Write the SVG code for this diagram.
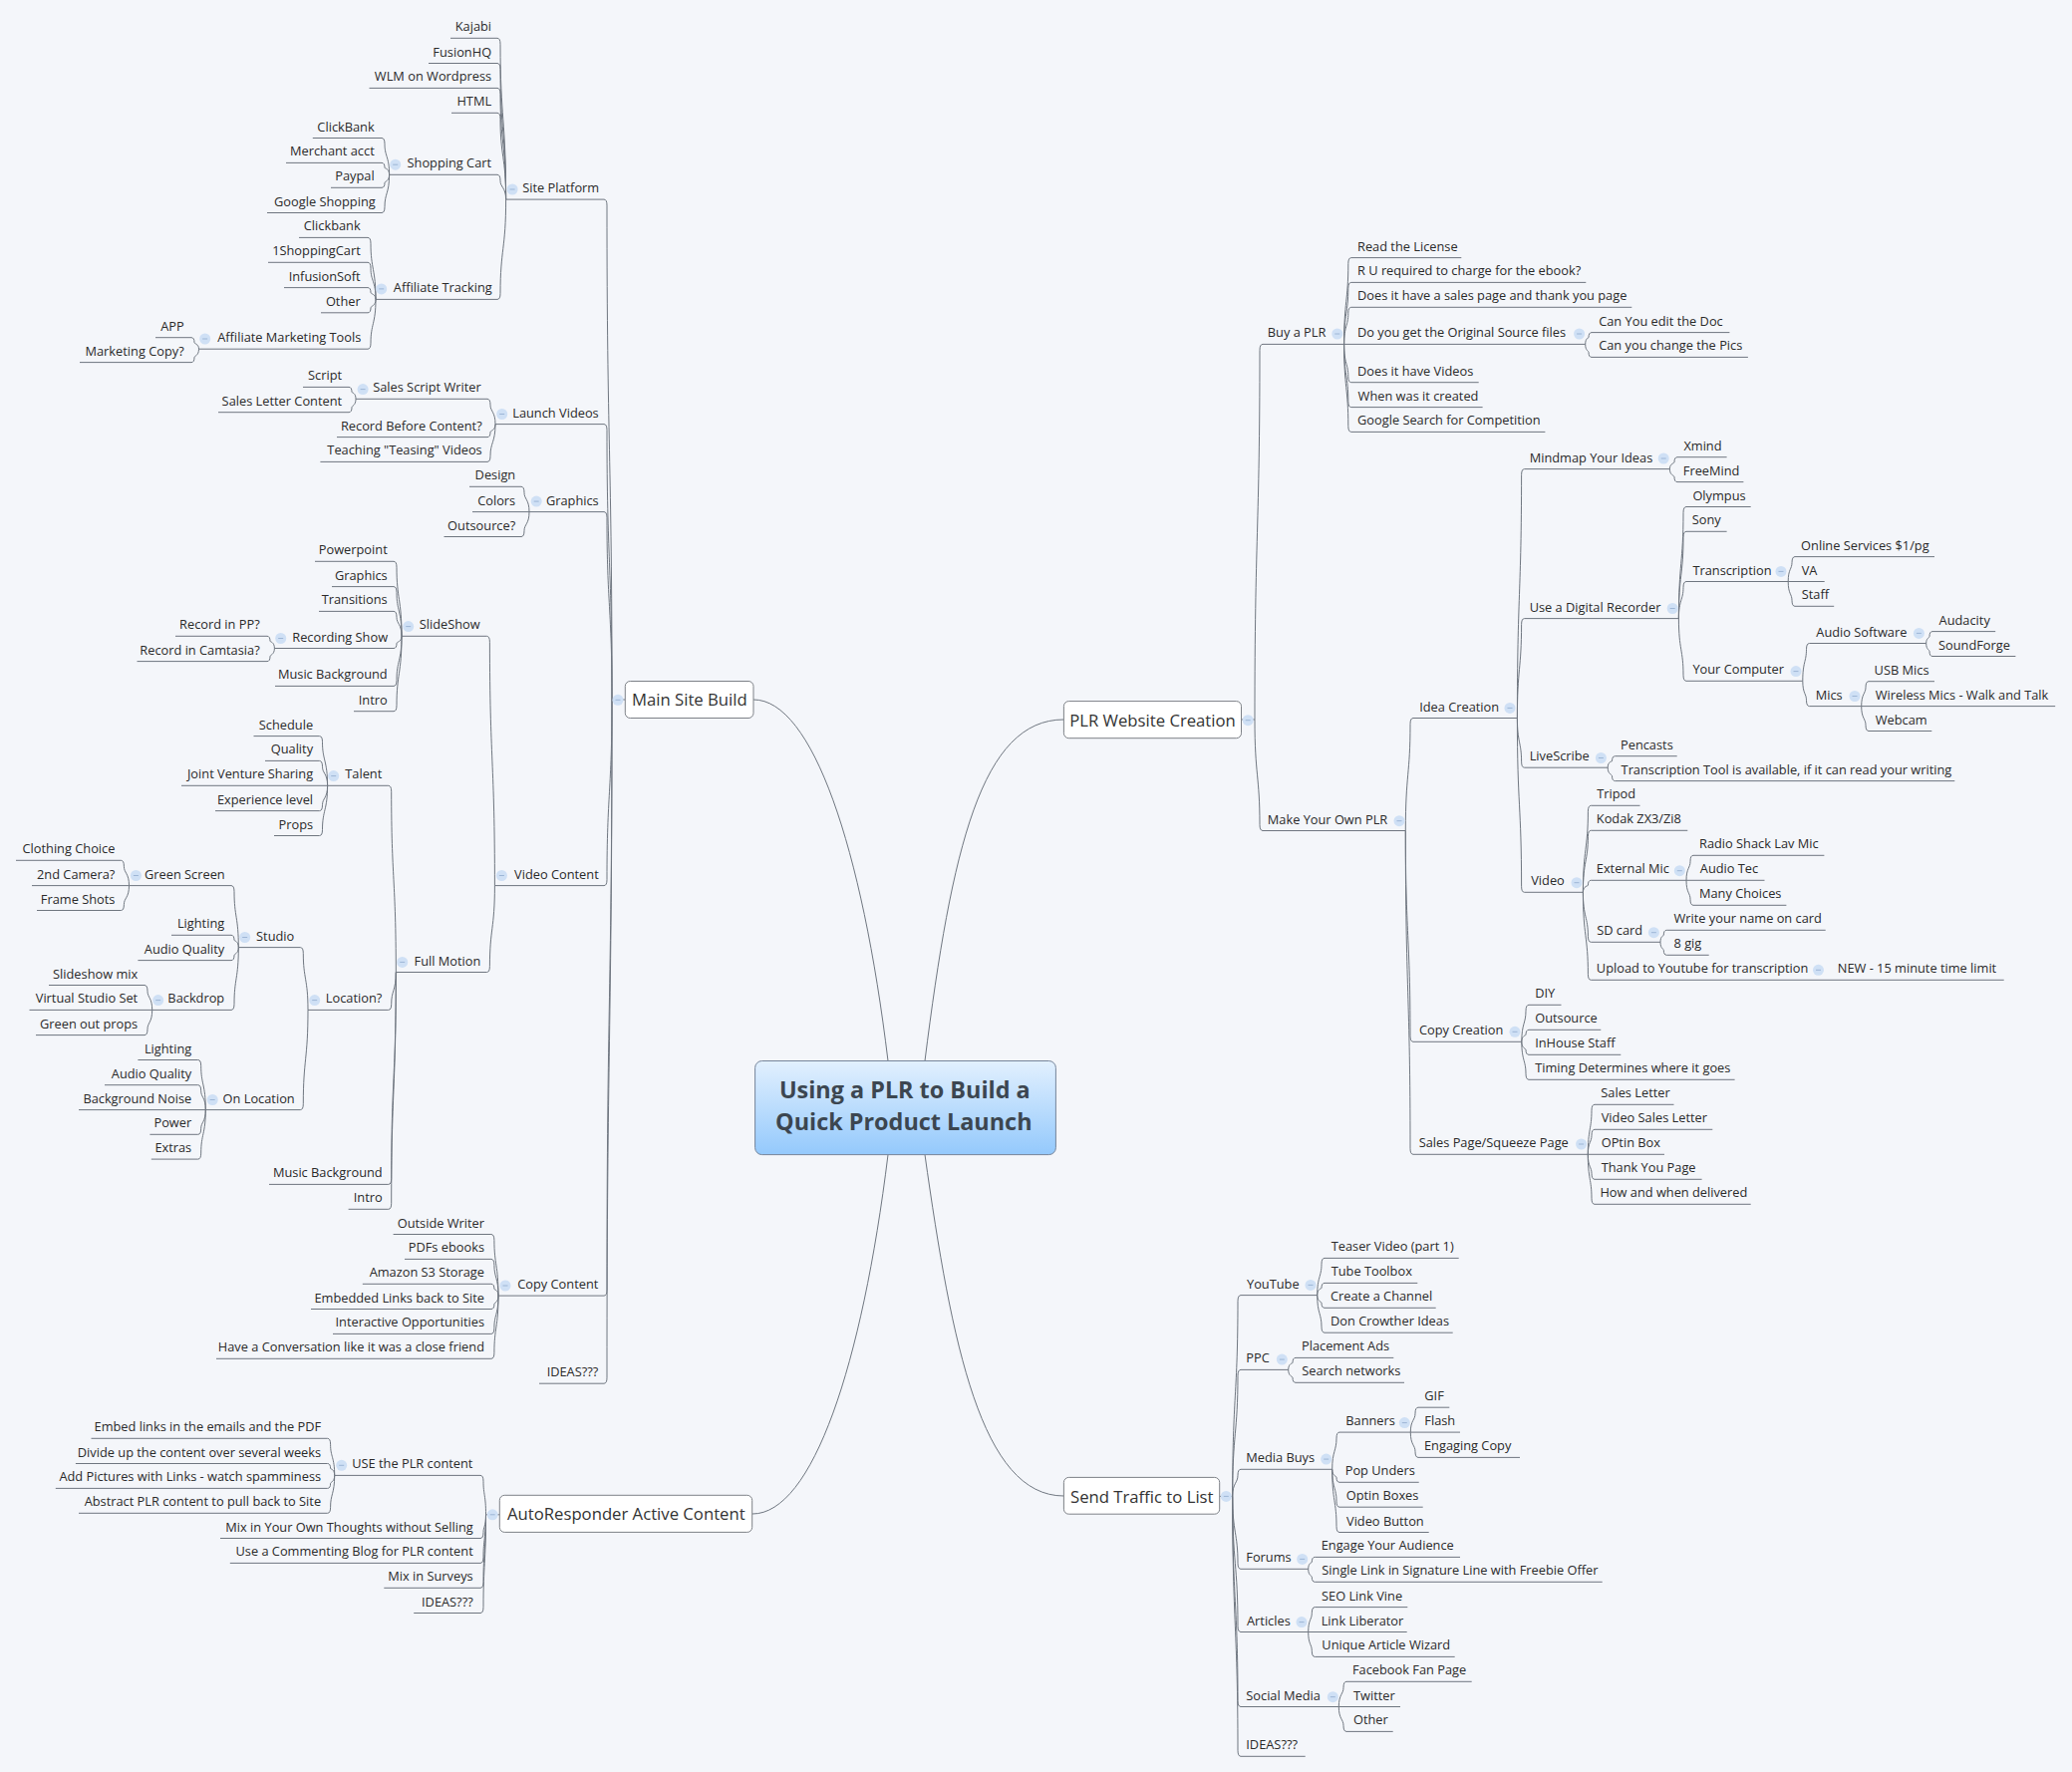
<svg xmlns="http://www.w3.org/2000/svg" width="2079" height="1778" viewBox="0 0 2079 1778">
<style>
text{font-family:"Open Sans","Liberation Sans",sans-serif;font-size:12.8px;fill:#2a2a2a}
.e{text-anchor:end}
.m{font-size:16.7px;fill:#333}
.c{font-size:23.4px;font-weight:700;fill:#3c4650;text-anchor:middle}
#connectors path{fill:none;stroke:#6f7680;stroke-width:1}
.b{fill:#fff;stroke:#7d8187;stroke-width:1}
</style>
<defs>
<linearGradient id="g" x1="0" y1="0" x2="0" y2="1"><stop offset="0" stop-color="#e2f0fe"/><stop offset="1" stop-color="#94c9fc"/></linearGradient>
<g id="ic"><circle r="5.5" fill="#cfe0f5"/><path d="M-2.5 0H2.5" stroke="#9db6d6" stroke-width="1"/></g>
</defs>
<rect width="2079" height="1778" fill="#f4f6fa"/>
<g id="connectors">
<path d="M891 1064.5C865 850 815 702 756 702"/>
<path d="M928 1064.5C955 850 985 722 1067.4 722"/>
<path d="M891 1158.6C865 1370 815 1519 755 1519"/>
<path d="M928 1158.6C955 1350 985 1501 1067.4 1501"/>
<path d="M627 702H614"/><path d="M1245.5 722H1259"/><path d="M501.3 1519.8H487.5"/><path d="M1223.7 1501.4H1236.7"/>
<path d="M614 702C614 451 609 451 609 206.1Q609 200.1 606 200.1H507.6"/>
<path d="M614 702C614 564 609 564 609 431.6Q609 425.6 606 425.6H497"/>
<path d="M614 702C614 608 609 608 609 519.6Q609 513.6 606 513.6H531"/>
<path d="M614 702C614 795 609 795 609 882.6Q609 888.6 606 888.6H496.4"/>
<path d="M614 702C614 1001 609 1001 609 1294.1Q609 1300.1 606 1300.1H500"/>
<path d="M614 702C614 1045 609 1045 609 1382.2Q609 1388.2 606 1388.2H541"/>
<path d="M507.6 200.1C507.6 119 502 119 502 44.3Q502 38.3 499 38.3H452"/>
<path d="M507.6 200.1C507.6 132 502 132 502 69.5Q502 63.5 499 63.5H430"/>
<path d="M507.6 200.1C507.6 144 502 144 502 94.4Q502 88.4 499 88.4H370.5"/>
<path d="M507.6 200.1C507.6 157 502 157 502 119.3Q502 113.3 499 113.3H453"/>
<path d="M507.6 200.1C507.6 188 502 188 502 181.3Q502 175.3 499 175.3H390.6"/>
<path d="M507.6 200.1C507.6 250 502 250 502 294.4Q502 300.4 499 300.4H377"/>
<path d="M390.6 175.3C390.6 157 386 157 386 144.5Q386 138.5 383 138.5H313.8"/>
<path d="M390.6 175.3C390.6 169 386 169 386 168.4Q386 163.4 383 163.4H287"/>
<path d="M390.6 175.3C390.6 182 386 182 386 183.3Q386 188.3 383 188.3H332"/>
<path d="M390.6 175.3C390.6 194 386 194 386 207.5Q386 213.5 383 213.5H268"/>
<path d="M377 300.4C377 270 372 270 372 244.4Q372 238.4 369 238.4H300"/>
<path d="M377 300.4C377 282 372 282 372 269.3Q372 263.3 369 263.3H269"/>
<path d="M377 300.4C377 295 372 295 372 293.6Q372 288.6 369 288.6H285"/>
<path d="M377 300.4C377 307 372 307 372 308.8Q372 313.8 369 313.8H322"/>
<path d="M377 300.4C377 325 372 325 372 344.2Q372 350.2 369 350.2H199.5"/>
<path d="M199.5 350.2C199.5 345 195 345 195 343.7Q195 338.7 192 338.7H156"/>
<path d="M199.5 350.2C199.5 357 195 357 195 358.6Q195 363.6 192 363.6H80"/>
<path d="M497 425.6C497 413 492 413 492 406.3Q492 400.3 489 400.3H357"/>
<path d="M497 425.6C497 432 492 432 492 433.6Q492 438.6 489 438.6H338"/>
<path d="M497 425.6C497 444 492 444 492 457.4Q492 463.4 489 463.4H321.4"/>
<path d="M357 400.3C357 394 353 394 353 393.4Q353 388.4 350 388.4H304"/>
<path d="M357 400.3C357 407 353 407 353 408.7Q353 413.7 350 413.7H219"/>
<path d="M531 513.6C531 501 526 501 526 494.3Q526 488.3 523 488.3H471"/>
<path d="M531 513.6H474"/>
<path d="M531 513.6C531 526 526 526 526 532.5Q526 538.5 523 538.5H445.5"/>
<path d="M496.4 888.6C496.4 763 491.4 763 491.4 644.3Q491.4 638.3 488.4 638.3H403"/>
<path d="M496.4 888.6C496.4 932 491.4 932 491.4 969.5Q491.4 975.5 488.4 975.5H397.3"/>
<path d="M403 638.3C403 601 398 601 398 569.3Q398 563.3 395 563.3H316"/>
<path d="M403 638.3C403 613 398 613 398 594.6Q398 588.6 395 588.6H333"/>
<path d="M403 638.3C403 626 398 626 398 619.4Q398 613.4 395 613.4H320"/>
<path d="M403 638.3C403 644 398 644 398 645.5Q398 650.5 395 650.5H275.4"/>
<path d="M403 638.3C403 663 398 663 398 682.4Q398 688.4 395 688.4H276"/>
<path d="M403 638.3C403 676 398 676 398 707.7Q398 713.7 395 713.7H355"/>
<path d="M275.4 650.5C275.4 644 271 644 271 643.3Q271 638.3 268 638.3H176"/>
<path d="M275.4 650.5C275.4 657 271 657 271 658.6Q271 663.6 268 663.6H137.5"/>
<path d="M397.3 975.5C397.3 882 392.7 882 392.7 794.3Q392.7 788.3 389.7 788.3H328.6"/>
<path d="M397.3 975.5C397.3 994 392.7 994 392.7 1007.4Q392.7 1013.4 389.7 1013.4H309"/>
<path d="M397.3 975.5C397.3 1082 392.7 1082 392.7 1182.4Q392.7 1188.4 389.7 1188.4H270"/>
<path d="M397.3 975.5C397.3 1094 392.7 1094 392.7 1207.3Q392.7 1213.3 389.7 1213.3H349.6"/>
<path d="M328.6 788.3C328.6 763 323.5 763 323.5 744.6Q323.5 738.6 320.5 738.6H254.5"/>
<path d="M328.6 788.3C328.6 776 323.5 776 323.5 769.4Q323.5 763.4 320.5 763.4H266"/>
<path d="M328.6 788.3H182"/>
<path d="M328.6 788.3C328.6 801 323.5 801 323.5 807.6Q323.5 813.6 320.5 813.6H216"/>
<path d="M328.6 788.3C328.6 813 323.5 813 323.5 832.5Q323.5 838.5 320.5 838.5H275"/>
<path d="M309 1013.4C309 982 304.3 982 304.3 956.6Q304.3 950.6 301.3 950.6H239.3"/>
<path d="M309 1013.4C309 1063 304.3 1063 304.3 1107.6Q304.3 1113.6 301.3 1113.6H206.3"/>
<path d="M239.3 950.6C239.3 920 235 920 235 894.6Q235 888.6 232 888.6H129.5"/>
<path d="M239.3 950.6C239.3 944 235 944 235 943.3Q235 938.3 232 938.3H172"/>
<path d="M239.3 950.6C239.3 957 235 957 235 958.6Q235 963.6 232 963.6H138.4"/>
<path d="M239.3 950.6C239.3 982 235 982 235 1007.4Q235 1013.4 232 1013.4H152.7"/>
<path d="M129.5 888.6C129.5 876 124.4 876 124.4 869.3Q124.4 863.3 121.4 863.3H16"/>
<path d="M129.5 888.6H32"/>
<path d="M129.5 888.6C129.5 901 124.4 901 124.4 907.5Q124.4 913.5 121.4 913.5H37"/>
<path d="M152.7 1013.4C152.7 1001 148 1001 148 994.5Q148 988.5 145 988.5H49"/>
<path d="M152.7 1013.4H29.5"/>
<path d="M152.7 1013.4C152.7 1026 148 1026 148 1032.6Q148 1038.6 145 1038.6H36"/>
<path d="M206.3 1113.6C206.3 1088 201.7 1088 201.7 1069.5Q201.7 1063.5 198.7 1063.5H138.4"/>
<path d="M206.3 1113.6C206.3 1101 201.7 1101 201.7 1094.7Q201.7 1088.7 198.7 1088.7H105"/>
<path d="M206.3 1113.6H79"/>
<path d="M206.3 1113.6C206.3 1126 201.7 1126 201.7 1132.3Q201.7 1138.3 198.7 1138.3H150.4"/>
<path d="M206.3 1113.6C206.3 1138 201.7 1138 201.7 1157.1Q201.7 1163.1 198.7 1163.1H151.8"/>
<path d="M500 1300.1C500 1269 495.9 1269 495.9 1244.5Q495.9 1238.5 492.9 1238.5H394.6"/>
<path d="M500 1300.1C500 1282 495.9 1282 495.9 1269.4Q495.9 1263.4 492.9 1263.4H406"/>
<path d="M500 1300.1C500 1294 495.9 1294 495.9 1293.3Q495.9 1288.3 492.9 1288.3H363.8"/>
<path d="M500 1300.1C500 1307 495.9 1307 495.9 1308.5Q495.9 1313.5 492.9 1313.5H312"/>
<path d="M500 1300.1C500 1319 495.9 1319 495.9 1332.4Q495.9 1338.4 492.9 1338.4H334"/>
<path d="M500 1300.1C500 1332 495.9 1332 495.9 1357.3Q495.9 1363.3 492.9 1363.3H217"/>
<path d="M487.5 1519.8C487.5 1500 485 1500 485 1486.4Q485 1480.4 482 1480.4H335.7"/>
<path d="M487.5 1519.8C487.5 1532 485 1532 485 1537.5Q485 1543.5 482 1543.5H221"/>
<path d="M487.5 1519.8C487.5 1544 485 1544 485 1562.4Q485 1568.4 482 1568.4H230.8"/>
<path d="M487.5 1519.8C487.5 1556 485 1556 485 1587.3Q485 1593.3 482 1593.3H385.3"/>
<path d="M487.5 1519.8C487.5 1569 485 1569 485 1612.5Q485 1618.5 482 1618.5H415.2"/>
<path d="M335.7 1480.4C335.7 1462 331.6 1462 331.6 1449.3Q331.6 1443.3 328.6 1443.3H91.5"/>
<path d="M335.7 1480.4C335.7 1474 331.6 1474 331.6 1473.5Q331.6 1468.5 328.6 1468.5H75.9"/>
<path d="M335.7 1480.4C335.7 1487 331.6 1487 331.6 1488.4Q331.6 1493.4 328.6 1493.4H55.8"/>
<path d="M335.7 1480.4C335.7 1499 331.6 1499 331.6 1512.3Q331.6 1518.3 328.6 1518.3H79"/>
<path d="M1259 722C1259 534 1264 534 1264 351.4Q1264 345.4 1267 345.4H1348.6"/>
<path d="M1259 722C1259 778 1264 778 1264 827.5Q1264 833.5 1267 833.5H1410.3"/>
<path d="M1348.6 345.4C1348.6 302 1352.8 302 1352.8 264.6Q1352.8 258.6 1355.8 258.6H1466.3"/>
<path d="M1348.6 345.4C1348.6 314 1352.8 314 1352.8 289.4Q1352.8 283.4 1355.8 283.4H1591.3"/>
<path d="M1348.6 345.4C1348.6 327 1352.8 327 1352.8 314.3Q1352.8 308.3 1355.8 308.3H1637.3"/>
<path d="M1348.6 345.4H1590.7"/>
<path d="M1348.6 345.4C1348.6 365 1352.8 365 1352.8 377.7Q1352.8 383.7 1355.8 383.7H1483.7"/>
<path d="M1348.6 345.4C1348.6 377 1352.8 377 1352.8 402.6Q1352.8 408.6 1355.8 408.6H1487.6"/>
<path d="M1348.6 345.4C1348.6 389 1352.8 389 1352.8 427.4Q1352.8 433.4 1355.8 433.4H1550.4"/>
<path d="M1590.7 345.4C1590.7 339 1594 339 1594 338.6Q1594 333.6 1597 333.6H1735.4"/>
<path d="M1590.7 345.4C1590.7 352 1594 352 1594 353.4Q1594 358.4 1597 358.4H1753.9"/>
<path d="M1410.3 833.5C1410.3 777 1415 777 1415 726.5Q1415 720.5 1418 720.5H1522.4"/>
<path d="M1410.3 833.5C1410.3 939 1415 939 1415 1039.3Q1415 1045.3 1418 1045.3H1526.8"/>
<path d="M1410.3 833.5C1410.3 996 1415 996 1415 1152.3Q1415 1158.3 1418 1158.3H1593.3"/>
<path d="M1522.4 720.5C1522.4 596 1526.6 596 1526.6 476.6Q1526.6 470.6 1529.6 470.6H1675.4"/>
<path d="M1522.4 720.5C1522.4 671 1526.6 671 1526.6 626.6Q1526.6 620.6 1529.6 620.6H1684.4"/>
<path d="M1522.4 720.5C1522.4 745 1526.6 745 1526.6 764.2Q1526.6 770.2 1529.6 770.2H1613.2"/>
<path d="M1522.4 720.5C1522.4 808 1526.6 808 1526.6 889.3Q1526.6 895.3 1529.6 895.3H1588.4"/>
<path d="M1675.4 470.6C1675.4 465 1680 465 1680 463.7Q1680 458.7 1683 458.7H1732.6"/>
<path d="M1675.4 470.6C1675.4 477 1680 477 1680 478.6Q1680 483.6 1683 483.6H1749.4"/>
<path d="M1684.4 620.6C1684.4 565 1689 565 1689 514.5Q1689 508.5 1692 508.5H1756.7"/>
<path d="M1684.4 620.6C1684.4 577 1689 577 1689 539.3Q1689 533.3 1692 533.3H1732.6"/>
<path d="M1684.4 620.6C1684.4 602 1689 602 1689 589.5Q1689 583.5 1692 583.5H1794.2"/>
<path d="M1684.4 620.6C1684.4 652 1689 652 1689 677.3Q1689 683.3 1692 683.3H1808.8"/>
<path d="M1794.2 583.5C1794.2 571 1798 571 1798 564.6Q1798 558.6 1801 558.6H1941"/>
<path d="M1794.2 583.5H1830.7"/>
<path d="M1794.2 583.5C1794.2 596 1798 596 1798 602.3Q1798 608.3 1801 608.3H1840.2"/>
<path d="M1808.8 683.3C1808.8 664 1812.5 664 1812.5 651.5Q1812.5 645.5 1815.5 645.5H1932.7"/>
<path d="M1808.8 683.3C1808.8 696 1812.5 696 1812.5 702.6Q1812.5 708.6 1815.5 708.6H1867.7"/>
<path d="M1932.7 645.5C1932.7 640 1936 640 1936 638.6Q1936 633.6 1939 633.6H2002.2"/>
<path d="M1932.7 645.5C1932.7 652 1936 652 1936 653.5Q1936 658.5 1939 658.5H2022.4"/>
<path d="M1867.7 708.6C1867.7 696 1872 696 1872 689.7Q1872 683.7 1875 683.7H1941"/>
<path d="M1867.7 708.6H2062.2"/>
<path d="M1867.7 708.6C1867.7 721 1872 721 1872 727.5Q1872 733.5 1875 733.5H1938.3"/>
<path d="M1613.2 770.2C1613.2 764 1617.5 764 1617.5 763.7Q1617.5 758.7 1620.5 758.7H1682.7"/>
<path d="M1613.2 770.2C1613.2 777 1617.5 777 1617.5 778.6Q1617.5 783.6 1620.5 783.6H1961.3"/>
<path d="M1588.4 895.3C1588.4 852 1593.4 852 1593.4 814.3Q1593.4 808.3 1596.4 808.3H1645.5"/>
<path d="M1588.4 895.3C1588.4 864 1593.4 864 1593.4 839.3Q1593.4 833.3 1596.4 833.3H1693.3"/>
<path d="M1588.4 895.3C1588.4 889 1593.4 889 1593.4 888.3Q1593.4 883.3 1596.4 883.3H1692"/>
<path d="M1588.4 895.3C1588.4 920 1593.4 920 1593.4 939.3Q1593.4 945.3 1596.4 945.3H1666"/>
<path d="M1588.4 895.3C1588.4 939 1593.4 939 1593.4 977.3Q1593.4 983.3 1596.4 983.3H2010.7"/>
<path d="M1692 883.3C1692 871 1696 871 1696 864.3Q1696 858.3 1699 858.3H1830.4"/>
<path d="M1692 883.3H1770.5"/>
<path d="M1692 883.3C1692 896 1696 896 1696 902.3Q1696 908.3 1699 908.3H1792.4"/>
<path d="M1666 945.3C1666 939 1669.3 939 1669.3 938.3Q1669.3 933.3 1672.3 933.3H1831.7"/>
<path d="M1666 945.3C1666 952 1669.3 952 1669.3 953.3Q1669.3 958.3 1672.3 958.3H1714.7"/>
<path d="M1526.8 1045.3C1526.8 1027 1531 1027 1531 1014.3Q1531 1008.3 1534 1008.3H1566.5"/>
<path d="M1526.8 1045.3C1526.8 1039 1531 1039 1531 1038.3Q1531 1033.3 1534 1033.3H1606.3"/>
<path d="M1526.8 1045.3C1526.8 1052 1531 1052 1531 1053.3Q1531 1058.3 1534 1058.3H1626.3"/>
<path d="M1526.8 1045.3C1526.8 1064 1531 1064 1531 1077.3Q1531 1083.3 1534 1083.3H1740.6"/>
<path d="M1593.3 1158.3C1593.3 1133 1597 1133 1597 1114.3Q1597 1108.3 1600 1108.3H1679.5"/>
<path d="M1593.3 1158.3C1593.3 1146 1597 1146 1597 1139.3Q1597 1133.3 1600 1133.3H1718.3"/>
<path d="M1593.3 1158.3H1670"/>
<path d="M1593.3 1158.3C1593.3 1171 1597 1171 1597 1177.3Q1597 1183.3 1600 1183.3H1707.6"/>
<path d="M1593.3 1158.3C1593.3 1183 1597 1183 1597 1202.3Q1597 1208.3 1600 1208.3H1756.7"/>
<path d="M1236.7 1501.4C1236.7 1400 1242 1400 1242 1305.6Q1242 1299.6 1245 1299.6H1321.7"/>
<path d="M1236.7 1501.4C1236.7 1438 1242 1438 1242 1380.4Q1242 1374.4 1245 1374.4H1292.7"/>
<path d="M1236.7 1501.4C1236.7 1488 1242 1488 1242 1480.3Q1242 1474.3 1245 1474.3H1336.7"/>
<path d="M1236.7 1501.4C1236.7 1538 1242 1538 1242 1568.3Q1242 1574.3 1245 1574.3H1312.7"/>
<path d="M1236.7 1501.4C1236.7 1569 1242 1569 1242 1631.5Q1242 1637.5 1245 1637.5H1312.7"/>
<path d="M1236.7 1501.4C1236.7 1607 1242 1607 1242 1706.5Q1242 1712.5 1245 1712.5H1343.3"/>
<path d="M1236.7 1501.4C1236.7 1632 1242 1632 1242 1756.3Q1242 1762.3 1245 1762.3H1309.7"/>
<path d="M1321.7 1299.6C1321.7 1281 1326 1281 1326 1268.4Q1326 1262.4 1329 1262.4H1463.7"/>
<path d="M1321.7 1299.6C1321.7 1293 1326 1293 1326 1292.4Q1326 1287.4 1329 1287.4H1422.3"/>
<path d="M1321.7 1299.6C1321.7 1306 1326 1306 1326 1307.3Q1326 1312.3 1329 1312.3H1440.7"/>
<path d="M1321.7 1299.6C1321.7 1318 1326 1318 1326 1331.2Q1326 1337.2 1329 1337.2H1457.7"/>
<path d="M1292.7 1374.4C1292.7 1368 1297 1368 1297 1367.4Q1297 1362.4 1300 1362.4H1398.3"/>
<path d="M1292.7 1374.4C1292.7 1381 1297 1381 1297 1382.3Q1297 1387.3 1300 1387.3H1409"/>
<path d="M1336.7 1474.3C1336.7 1456 1341 1456 1341 1443.1Q1341 1437.1 1344 1437.1H1415.3"/>
<path d="M1336.7 1474.3C1336.7 1481 1341 1481 1341 1482.3Q1341 1487.3 1344 1487.3H1423.7"/>
<path d="M1336.7 1474.3C1336.7 1493 1341 1493 1341 1506.2Q1341 1512.2 1344 1512.2H1427.7"/>
<path d="M1336.7 1474.3C1336.7 1506 1341 1506 1341 1531.5Q1341 1537.5 1344 1537.5H1433.7"/>
<path d="M1415.3 1437.1C1415.3 1425 1420 1425 1420 1418.2Q1420 1412.2 1423 1412.2H1454.3"/>
<path d="M1415.3 1437.1H1465"/>
<path d="M1415.3 1437.1C1415.3 1450 1420 1450 1420 1456.4Q1420 1462.4 1423 1462.4H1525"/>
<path d="M1312.7 1574.3C1312.7 1568 1316.3 1568 1316.3 1567.4Q1316.3 1562.4 1319.3 1562.4H1465"/>
<path d="M1312.7 1574.3C1312.7 1581 1316.3 1581 1316.3 1582.3Q1316.3 1587.3 1319.3 1587.3H1607.7"/>
<path d="M1312.7 1637.5C1312.7 1625 1316.3 1625 1316.3 1618.6Q1316.3 1612.6 1319.3 1612.6H1412.3"/>
<path d="M1312.7 1637.5H1411.7"/>
<path d="M1312.7 1637.5C1312.7 1650 1316.3 1650 1316.3 1656.4Q1316.3 1662.4 1319.3 1662.4H1459.7"/>
<path d="M1343.3 1712.5C1343.3 1700 1348 1700 1348 1693.3Q1348 1687.3 1351 1687.3H1476.7"/>
<path d="M1343.3 1712.5H1405"/>
<path d="M1343.3 1712.5C1343.3 1725 1348 1725 1348 1731.4Q1348 1737.4 1351 1737.4H1397.7"/>
</g>
<g id="center"><rect x="757.6" y="1064.5" width="301.8" height="94.1" rx="7" fill="url(#g)" stroke="#76859a"/><text class="c" x="907.8" y="1101.6">Using a PLR to Build a</text><text class="c" x="906.8" y="1134">Quick Product Launch</text></g>
<g id="main-site-build"><rect class="b" x="627.3" y="683.5" width="128.7" height="37" rx="5"/><text class="m" x="634" y="708.3">Main Site Build</text><use href="#ic" x="620" y="702.3"/></g>
<g id="plr-website-creation"><rect class="b" x="1067.4" y="703.6" width="178.1" height="37.1" rx="5"/><text class="m" x="1073.2" y="728.5">PLR Website Creation</text><use href="#ic" x="1252.2" y="722.7"/></g>
<g id="autoresponder"><rect class="b" x="501.3" y="1500.3" width="253.4" height="37.1" rx="5"/><text class="m" x="509" y="1525">AutoResponder Active Content</text><use href="#ic" x="494.2" y="1519.8"/></g>
<g id="send-traffic"><rect class="b" x="1067.4" y="1482.4" width="156.3" height="36.8" rx="5"/><text class="m" x="1074" y="1507.7">Send Traffic to List</text><use href="#ic" x="1230.3" y="1501.4"/></g>
<g id="left-topics" transform="translate(0.7 1)">
<g id="n1"><text class="e" x="492.4" y="30.3">Kajabi</text></g>
<g id="n2"><text class="e" x="492.4" y="55.5">FusionHQ</text></g>
<g id="n3"><text class="e" x="492.4" y="80.4">WLM on Wordpress</text></g>
<g id="n4"><text class="e" x="492.4" y="105.3">HTML</text></g>
<g id="n5"><text class="e" x="600.5" y="192.1">Site Platform</text><use href="#ic" x="513.4" y="189"/></g>
<g id="n6"><text class="e" x="492.4" y="167.3">Shopping Cart</text><use href="#ic" x="396" y="164.2"/></g>
<g id="n7"><text class="e" x="375" y="130.5">ClickBank</text></g>
<g id="n8"><text class="e" x="375" y="155.4">Merchant acct</text></g>
<g id="n9"><text class="e" x="375" y="180.3">Paypal</text></g>
<g id="n10"><text class="e" x="376" y="205.5">Google Shopping</text></g>
<g id="n11"><text class="e" x="493" y="292.4">Affiliate Tracking</text><use href="#ic" x="382" y="288.9"/></g>
<g id="n12"><text class="e" x="361" y="230.4">Clickbank</text></g>
<g id="n13"><text class="e" x="361" y="255.3">1ShoppingCart</text></g>
<g id="n14"><text class="e" x="361" y="280.6">InfusionSoft</text></g>
<g id="n15"><text class="e" x="361" y="305.8">Other</text></g>
<g id="n16"><text class="e" x="361.6" y="342.2">Affiliate Marketing Tools</text><use href="#ic" x="205" y="339"/></g>
<g id="n17"><text class="e" x="184" y="330.7">APP</text></g>
<g id="n18"><text class="e" x="184" y="355.6">Marketing Copy?</text></g>
<g id="n19"><text class="e" x="600" y="417.6">Launch Videos</text><use href="#ic" x="503" y="414.5"/></g>
<g id="n20"><text class="e" x="482" y="392.3">Sales Script Writer</text><use href="#ic" x="363.4" y="389.6"/></g>
<g id="n21"><text class="e" x="342.4" y="380.4">Script</text></g>
<g id="n22"><text class="e" x="342.4" y="405.7">Sales Letter Content</text></g>
<g id="n23"><text class="e" x="483" y="430.6">Record Before Content?</text></g>
<g id="n24"><text class="e" x="483" y="455.4">Teaching "Teasing" Videos</text></g>
<g id="n25"><text class="e" x="600" y="505.6">Graphics</text><use href="#ic" x="537.5" y="502.1"/></g>
<g id="n26"><text class="e" x="516.5" y="480.3">Design</text></g>
<g id="n27"><text class="e" x="516.5" y="505.6">Colors</text></g>
<g id="n28"><text class="e" x="516.5" y="530.5">Outsource?</text></g>
<g id="n29"><text class="e" x="600" y="880.6">Video Content</text><use href="#ic" x="502.7" y="877.5"/></g>
<g id="n30"><text class="e" x="481" y="630.3">SlideShow</text><use href="#ic" x="409" y="627.6"/></g>
<g id="n31"><text class="e" x="388" y="555.3">Powerpoint</text></g>
<g id="n32"><text class="e" x="388" y="580.6">Graphics</text></g>
<g id="n33"><text class="e" x="388" y="605.4">Transitions</text></g>
<g id="n34"><text class="e" x="388.4" y="642.5">Recording Show</text><use href="#ic" x="281" y="639.5"/></g>
<g id="n35"><text class="e" x="260" y="630.3">Record in PP?</text></g>
<g id="n36"><text class="e" x="260" y="655.6">Record in Camtasia?</text></g>
<g id="n37"><text class="e" x="388" y="680.4">Music Background</text></g>
<g id="n38"><text class="e" x="388" y="705.7">Intro</text></g>
<g id="n39"><text class="e" x="481.7" y="967.5">Full Motion</text><use href="#ic" x="403" y="964.4"/></g>
<g id="n40"><text class="e" x="382.6" y="780.3">Talent</text><use href="#ic" x="334" y="777.6"/></g>
<g id="n41"><text class="e" x="313.4" y="730.6">Schedule</text></g>
<g id="n42"><text class="e" x="313.4" y="755.4">Quality</text></g>
<g id="n43"><text class="e" x="313.4" y="780.3">Joint Venture Sharing</text></g>
<g id="n44"><text class="e" x="313.4" y="805.6">Experience level</text></g>
<g id="n45"><text class="e" x="313.4" y="830.5">Props</text></g>
<g id="n46"><text class="e" x="382.6" y="1005.4">Location?</text><use href="#ic" x="315" y="1002.6"/></g>
<g id="n47"><text class="e" x="294.6" y="942.6">Studio</text><use href="#ic" x="245" y="939.5"/></g>
<g id="n48"><text class="e" x="225" y="880.6">Green Screen</text><use href="#ic" x="135.7" y="877.5"/></g>
<g id="n49"><text class="e" x="114.7" y="855.3">Clothing Choice</text></g>
<g id="n50"><text class="e" x="114.7" y="880.6">2nd Camera?</text></g>
<g id="n51"><text class="e" x="114.7" y="905.5">Frame Shots</text></g>
<g id="n52"><text class="e" x="224.5" y="930.3">Lighting</text></g>
<g id="n53"><text class="e" x="224.5" y="955.6">Audio Quality</text></g>
<g id="n54"><text class="e" x="224.5" y="1005.4">Backdrop</text><use href="#ic" x="158" y="1002.6"/></g>
<g id="n55"><text class="e" x="137.5" y="980.5">Slideshow mix</text></g>
<g id="n56"><text class="e" x="137.5" y="1005.4">Virtual Studio Set</text></g>
<g id="n57"><text class="e" x="137.5" y="1030.6">Green out props</text></g>
<g id="n58"><text class="e" x="295" y="1105.6">On Location</text><use href="#ic" x="212.5" y="1102.5"/></g>
<g id="n59"><text class="e" x="191.5" y="1055.5">Lighting</text></g>
<g id="n60"><text class="e" x="191.5" y="1080.7">Audio Quality</text></g>
<g id="n61"><text class="e" x="191.5" y="1105.6">Background Noise</text></g>
<g id="n62"><text class="e" x="191.5" y="1130.3">Power</text></g>
<g id="n63"><text class="e" x="191.5" y="1155.1">Extras</text></g>
<g id="n64"><text class="e" x="383" y="1180.4">Music Background</text></g>
<g id="n65"><text class="e" x="383" y="1205.3">Intro</text></g>
<g id="n66"><text class="e" x="599.6" y="1292.1">Copy Content</text><use href="#ic" x="506.3" y="1289"/></g>
<g id="n67"><text class="e" x="485.3" y="1230.5">Outside Writer</text></g>
<g id="n68"><text class="e" x="485.3" y="1255.4">PDFs ebooks</text></g>
<g id="n69"><text class="e" x="485.3" y="1280.3">Amazon S3 Storage</text></g>
<g id="n70"><text class="e" x="485.3" y="1305.5">Embedded Links back to Site</text></g>
<g id="n71"><text class="e" x="485.3" y="1330.4">Interactive Opportunities</text></g>
<g id="n72"><text class="e" x="485.3" y="1355.3">Have a Conversation like it was a close friend</text></g>
<g id="n73"><text class="e" x="599.6" y="1380.2">IDEAS???</text></g>
<g id="n74"><text class="e" x="473.7" y="1472.4">USE the PLR content</text><use href="#ic" x="342" y="1469.3"/></g>
<g id="n75"><text class="e" x="321.4" y="1435.3">Embed links in the emails and the PDF</text></g>
<g id="n76"><text class="e" x="321.4" y="1460.5">Divide up the content over several weeks</text></g>
<g id="n77"><text class="e" x="321.4" y="1485.4">Add Pictures with Links - watch spamminess</text></g>
<g id="n78"><text class="e" x="321.4" y="1510.3">Abstract PLR content to pull back to Site</text></g>
<g id="n79"><text class="e" x="474" y="1535.5">Mix in Your Own Thoughts without Selling</text></g>
<g id="n80"><text class="e" x="474" y="1560.4">Use a Commenting Blog for PLR content</text></g>
<g id="n81"><text class="e" x="474" y="1585.3">Mix in Surveys</text></g>
<g id="n82"><text class="e" x="474" y="1610.5">IDEAS???</text></g>
</g>
<g id="right-topics" transform="translate(0 1)">
<g id="r1"><text x="1271.8" y="337.4">Buy a PLR</text><use href="#ic" x="1341.8" y="334"/></g>
<g id="r2"><text x="1362" y="250.6">Read the License</text></g>
<g id="r3"><text x="1362" y="275.4">R U required to charge for the ebook?</text></g>
<g id="r4"><text x="1362" y="300.3">Does it have a sales page and thank you page</text></g>
<g id="r5"><text x="1362" y="337.4">Do you get the Original Source files</text><use href="#ic" x="1584.6" y="334"/></g>
<g id="r6"><text x="1604.2" y="325.6">Can You edit the Doc</text></g>
<g id="r7"><text x="1604.2" y="350.4">Can you change the Pics</text></g>
<g id="r8"><text x="1362" y="375.7">Does it have Videos</text></g>
<g id="r9"><text x="1362.6" y="400.6">When was it created</text></g>
<g id="r10"><text x="1362" y="425.4">Google Search for Competition</text></g>
<g id="r11"><text x="1271.8" y="825.5">Make Your Own PLR</text><use href="#ic" x="1404" y="822.7"/></g>
<g id="r12"><text x="1424.2" y="712.5">Idea Creation</text><use href="#ic" x="1515" y="709.4"/></g>
<g id="r13"><text x="1534.7" y="462.6">Mindmap Your Ideas</text><use href="#ic" x="1669.2" y="459"/></g>
<g id="r14"><text x="1689.4" y="450.7">Xmind</text></g>
<g id="r15"><text x="1688.8" y="475.6">FreeMind</text></g>
<g id="r16"><text x="1534.7" y="612.6">Use a Digital Recorder</text><use href="#ic" x="1678.2" y="609.5"/></g>
<g id="r17"><text x="1698.4" y="500.5">Olympus</text></g>
<g id="r18"><text x="1697.8" y="525.3">Sony</text></g>
<g id="r19"><text x="1698.4" y="575.5">Transcription</text><use href="#ic" x="1787" y="572.4"/></g>
<g id="r20"><text x="1807.1" y="550.6">Online Services $1/pg</text></g>
<g id="r21"><text x="1807.7" y="575.5">VA</text></g>
<g id="r22"><text x="1807.7" y="600.3">Staff</text></g>
<g id="r23"><text x="1698.4" y="675.3">Your Computer</text><use href="#ic" x="1802" y="672.6"/></g>
<g id="r24"><text x="1822.3" y="637.5">Audio Software</text><use href="#ic" x="1925.4" y="634.4"/></g>
<g id="r25"><text x="1945.6" y="625.6">Audacity</text></g>
<g id="r26"><text x="1945" y="650.5">SoundForge</text></g>
<g id="r27"><text x="1821.7" y="700.6">Mics</text><use href="#ic" x="1861" y="697.5"/></g>
<g id="r28"><text x="1880.6" y="675.7">USB Mics</text></g>
<g id="r29"><text x="1881.7" y="700.6">Wireless Mics - Walk and Talk</text></g>
<g id="r30"><text x="1881.7" y="725.5">Webcam</text></g>
<g id="r31"><text x="1534.7" y="762.2">LiveScribe</text><use href="#ic" x="1606.4" y="759.5"/></g>
<g id="r32"><text x="1626" y="750.7">Pencasts</text></g>
<g id="r33"><text x="1626.6" y="775.6">Transcription Tool is available, if it can read your writing</text></g>
<g id="r34"><text x="1536.2" y="887.3">Video</text><use href="#ic" x="1582" y="884.7"/></g>
<g id="r35"><text x="1602.2" y="800.3">Tripod</text></g>
<g id="r36"><text x="1601.8" y="825.3">Kodak ZX3/Zi8</text></g>
<g id="r37"><text x="1601.8" y="875.3">External Mic</text><use href="#ic" x="1685.3" y="872.7"/></g>
<g id="r38"><text x="1705" y="850.3">Radio Shack Lav Mic</text></g>
<g id="r39"><text x="1705.8" y="875.3">Audio Tec</text></g>
<g id="r40"><text x="1705" y="900.3">Many Choices</text></g>
<g id="r41"><text x="1602.2" y="937.3">SD card</text><use href="#ic" x="1659.4" y="934.7"/></g>
<g id="r42"><text x="1679.5" y="925.3">Write your name on card</text></g>
<g id="r43"><text x="1679.5" y="950.3">8 gig</text></g>
<g id="r44"><text x="1601.8" y="975.3">Upload to Youtube for transcription</text><use href="#ic" x="1824.5" y="972.3"/></g>
<g id="r45"><text x="1843.8" y="975.3">NEW - 15 minute time limit</text></g>
<g id="r46"><text x="1424" y="1037.3">Copy Creation</text><use href="#ic" x="1520" y="1034.3"/></g>
<g id="r47"><text x="1540.2" y="1000.3">DIY</text></g>
<g id="r48"><text x="1540.2" y="1025.3">Outsource</text></g>
<g id="r49"><text x="1540.2" y="1050.3">InHouse Staff</text></g>
<g id="r50"><text x="1540.2" y="1075.3">Timing Determines where it goes</text></g>
<g id="r51"><text x="1423.7" y="1150.3">Sales Page/Squeeze Page</text><use href="#ic" x="1586.6" y="1147"/></g>
<g id="r52"><text x="1606.3" y="1100.3">Sales Letter</text></g>
<g id="r53"><text x="1606.7" y="1125.3">Video Sales Letter</text></g>
<g id="r54"><text x="1606.7" y="1150.3">OPtin Box</text></g>
<g id="r55"><text x="1606.7" y="1175.3">Thank You Page</text></g>
<g id="r56"><text x="1605.4" y="1200.3">How and when delivered</text></g>
<g id="s1"><text x="1251" y="1291.6">YouTube</text><use href="#ic" x="1315" y="1288.4"/></g>
<g id="s2"><text x="1335.7" y="1254.4">Teaser Video (part 1)</text></g>
<g id="s3"><text x="1335.7" y="1279.4">Tube Toolbox</text></g>
<g id="s4"><text x="1335" y="1304.3">Create a Channel</text></g>
<g id="s5"><text x="1335" y="1329.2">Don Crowther Ideas</text></g>
<g id="s6"><text x="1250.3" y="1366.4">PPC</text><use href="#ic" x="1286.3" y="1363.1"/></g>
<g id="s7"><text x="1306" y="1354.4">Placement Ads</text></g>
<g id="s8"><text x="1306.3" y="1379.3">Search networks</text></g>
<g id="s9"><text x="1250.3" y="1466.3">Media Buys</text><use href="#ic" x="1330.7" y="1463.1"/></g>
<g id="s10"><text x="1350.3" y="1429.1">Banners</text><use href="#ic" x="1409.3" y="1426.6"/></g>
<g id="s11"><text x="1429.3" y="1404.2">GIF</text></g>
<g id="s12"><text x="1429.3" y="1429.1">Flash</text></g>
<g id="s13"><text x="1429" y="1454.4">Engaging Copy</text></g>
<g id="s14"><text x="1349.7" y="1479.3">Pop Unders</text></g>
<g id="s15"><text x="1350.7" y="1504.2">Optin Boxes</text></g>
<g id="s16"><text x="1351" y="1529.5">Video Button</text></g>
<g id="s17"><text x="1250.3" y="1566.3">Forums</text><use href="#ic" x="1306.7" y="1563.4"/></g>
<g id="s18"><text x="1325.7" y="1554.4">Engage Your Audience</text></g>
<g id="s19"><text x="1326.3" y="1579.3">Single Link in Signature Line with Freebie Offer</text></g>
<g id="s20"><text x="1251" y="1629.5">Articles</text><use href="#ic" x="1306" y="1626.6"/></g>
<g id="s21"><text x="1326" y="1604.6">SEO Link Vine</text></g>
<g id="s22"><text x="1325.7" y="1629.5">Link Liberator</text></g>
<g id="s23"><text x="1326.3" y="1654.4">Unique Article Wizard</text></g>
<g id="s24"><text x="1250.3" y="1704.5">Social Media</text><use href="#ic" x="1337.3" y="1701.7"/></g>
<g id="s25"><text x="1357" y="1679.3">Facebook Fan Page</text></g>
<g id="s26"><text x="1358" y="1704.5">Twitter</text></g>
<g id="s27"><text x="1358" y="1729.4">Other</text></g>
<g id="s28"><text x="1250.3" y="1754.3">IDEAS???</text></g>
</g>
</svg>
